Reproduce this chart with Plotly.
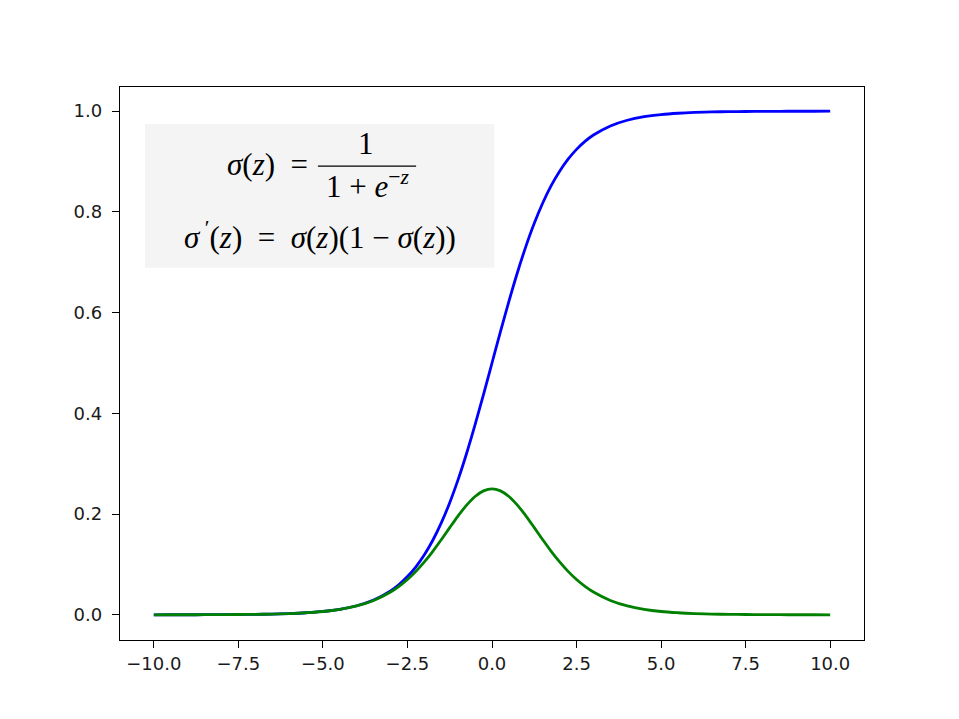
import plotly.graph_objects as go

z_values = [-10, -9.5, -9, -8.5, -8, -7.5, -7, -6.5, -6, -5.5, -5, -4.5, -4, -3.5, -3, -2.75, -2.5, -2.25,
            -2, -1.75, -1.5, -1.25, -1, -0.75, -0.5, -0.25, 0, 0.25, 0.5, 0.75, 1, 1.25, 1.5, 1.75, 2, 2.25,
            2.5, 2.75, 3, 3.5, 4, 4.5, 5, 5.5, 6, 6.5, 7, 7.5, 8, 8.5, 9, 9.5, 10]
sigmoid_values = [0.0000, 0.0001, 0.0001, 0.0002, 0.0003, 0.0006, 0.0009, 0.0015, 0.0025, 0.0041, 0.0067,
                  0.0110, 0.0180, 0.0293, 0.0474, 0.0601, 0.0759, 0.0953, 0.1192, 0.1480, 0.1824, 0.2227,
                  0.2689, 0.3208, 0.3775, 0.4378, 0.5000, 0.5622, 0.6225, 0.6792, 0.7311, 0.7773, 0.8176,
                  0.8520, 0.8808, 0.9047, 0.9241, 0.9399, 0.9526, 0.9707, 0.9820, 0.9890, 0.9933,
                  0.9959, 0.9975, 0.9985, 0.9991, 0.9994, 0.9997, 0.9998, 0.9999, 0.9999, 1.0000]
derivative_values = [0.0000, 0.0001, 0.0001, 0.0002, 0.0003, 0.0006, 0.0009, 0.0015, 0.0025, 0.0041, 0.0066,
                     0.0109, 0.0177, 0.0285, 0.0452, 0.0565, 0.0701, 0.0862, 0.1050, 0.1261, 0.1491, 0.1731,
                     0.1966, 0.2179, 0.2350, 0.2461, 0.2500, 0.2461, 0.2350, 0.2179, 0.1966, 0.1731, 0.1491,
                     0.1261, 0.1050, 0.0862, 0.0701, 0.0565, 0.0452, 0.0285, 0.0177, 0.0109, 0.0066,
                     0.0041, 0.0025, 0.0015, 0.0009, 0.0006, 0.0003, 0.0002, 0.0001, 0.0001, 0.0000]
x_ticks = [-10.0, -7.5, -5.0, -2.5, 0.0, 2.5, 5.0, 7.5, 10.0]
y_ticks = [0.0, 0.2, 0.4, 0.6, 0.8, 1.0]

fig = go.Figure()
fig.add_trace(go.Scatter(x=z_values, y=sigmoid_values, mode="lines",
                         line=dict(color="#0000ff", width=2.8, shape="spline", smoothing=1.0)))
fig.add_trace(go.Scatter(x=z_values, y=derivative_values, mode="lines",
                         line=dict(color="#008000", width=2.8, shape="spline", smoothing=1.0)))

axis_common = dict(showline=True, mirror=True, linecolor="black", linewidth=1.3, ticks="outside",
                   ticklen=7, tickwidth=1.3, tickcolor="black", showgrid=False, zeroline=False,
                   tickfont=dict(family="DejaVu Sans", size=18, color="#1a1a1a"), tickformat=".1f")
fig.update_xaxes(range=[-11, 11], tickvals=x_ticks, **axis_common)
fig.update_yaxes(range=[-0.05, 1.048], tickvals=y_ticks, ticklabelstandoff=6, **axis_common)

serif = dict(family="Liberation Serif", size=31, color="black")
fig.add_shape(type="rect", xref="paper", yref="paper", x0=0.0336, x1=0.503, y0=0.673, y1=0.933,
              fillcolor="#f4f4f4", line=dict(width=0), layer="below")
fig.add_shape(type="line", xref="paper", yref="paper", x0=0.266, x1=0.398, y0=0.857, y1=0.857,
              line=dict(color="black", width=1.3))
fig.add_annotation(xref="paper", yref="paper", x=0.2554, y=0.859, xanchor="right", yanchor="middle",
                   text="<i>σ</i>(<i>z</i>)  =", showarrow=False, font=serif)
fig.add_annotation(xref="paper", yref="paper", x=0.3306, y=0.8987, xanchor="center", yanchor="middle",
                   text="1", showarrow=False, font=serif)
fig.add_annotation(xref="paper", yref="paper", x=0.332, y=0.8228, xanchor="center", yanchor="middle",
                   text="1 + <i>e</i><sup>−<i>z</i></sup>", showarrow=False, font=serif)
fig.add_annotation(xref="paper", yref="paper", x=0.2688, y=0.7306, xanchor="center", yanchor="middle",
                   text="<i>σ</i><sup> ′</sup>(<i>z</i>)  =  <i>σ</i>(<i>z</i>)(1 − <i>σ</i>(<i>z</i>))",
                   showarrow=False, font=serif)

fig.update_layout(width=951, height=711, margin=dict(l=112, r=95, t=79, b=79),
                  paper_bgcolor="white", plot_bgcolor="white", showlegend=False)
fig.write_html("out.html")
